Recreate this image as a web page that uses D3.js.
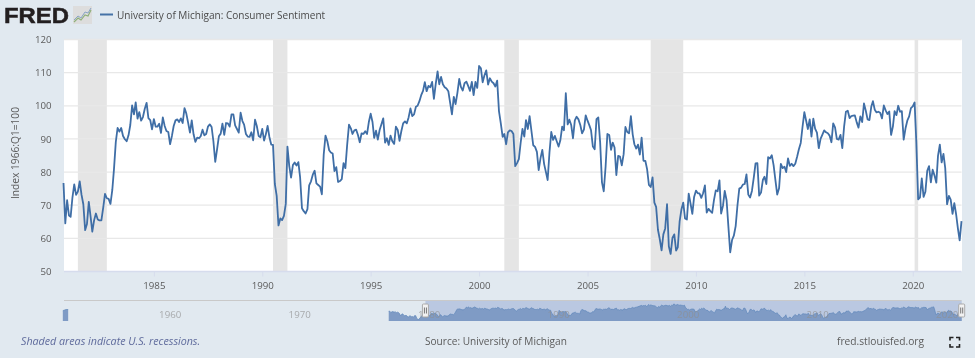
<!DOCTYPE html>
<html><head><meta charset="utf-8">
<script src="https://cdn.jsdelivr.net/npm/d3@7"></script>
<style>
html,body{margin:0;padding:0;background:#e1e9f0;overflow:hidden}
svg{display:block;filter:blur(0.35px)}
text{font-family:"Open Sans",sans-serif}
.axis path{display:none}
</style></head><body>
<svg id="c" width="975" height="358"></svg>
<script>
const seriesName = "University of Michigan: Consumer Sentiment";
const yAxisTitle = "Index 1966:Q1=100";
const sourceNote = "Source: University of Michigan";
const recessionNote = "Shaded areas indicate U.S. recessions.";
const siteNote = "fred.stlouisfed.org";

const firstMonth = "1980-11-01";
const sentiment = [
76.7,64.5,
71.5,66.9,66.5,72.4,76.3,73.1,74.1,77.2,73.1,70.3,62.5,64.3,
71.0,66.5,62.0,65.5,67.5,65.7,65.4,65.4,69.3,73.4,72.1,71.9,
70.4,74.6,80.8,89.1,93.3,92.2,93.3,90.9,89.9,89.3,91.1,94.2,
100.1,97.4,101.0,96.1,98.1,95.5,96.6,99.1,100.9,96.3,95.7,92.9,
96.0,93.7,93.7,94.6,91.8,96.5,94.0,92.4,92.1,88.4,90.9,93.9,
95.6,95.9,95.1,96.2,94.8,99.3,97.7,94.9,91.9,95.6,91.4,89.1,
90.4,90.2,90.8,92.8,91.1,91.5,93.7,94.4,93.6,89.3,83.1,86.8,
90.8,91.6,94.6,91.2,94.8,94.7,93.7,97.4,97.4,94.1,93.0,91.9,
97.9,95.4,94.3,91.5,90.7,90.6,92.0,89.6,95.8,93.9,90.9,90.5,
93.0,89.5,91.3,93.9,90.6,88.3,88.2,76.4,72.8,63.9,66.0,65.5,
66.8,70.4,87.7,81.8,78.3,82.1,82.9,82.0,83.0,78.3,69.1,68.2,
67.5,68.8,76.0,77.2,79.2,80.4,76.6,76.1,75.6,73.3,85.3,91.0,
89.3,86.6,85.9,85.6,80.3,81.5,77.0,77.3,77.9,82.7,81.2,88.2,
94.3,93.2,91.5,92.6,92.8,91.2,89.0,91.7,91.5,92.3,91.5,95.1,
97.6,95.1,90.3,92.5,89.8,92.7,94.4,96.2,88.9,90.2,88.2,91.0,
89.3,88.5,93.7,92.7,89.4,92.4,94.7,95.3,94.7,96.5,99.2,96.9,
97.4,99.7,100.0,101.4,103.2,104.5,107.1,104.4,106.0,105.6,107.2,102.1,
106.6,110.4,106.5,108.7,106.5,105.6,105.2,104.4,100.9,97.4,102.7,100.5,
103.9,108.1,105.7,104.6,106.8,107.3,106.0,104.5,107.2,103.2,107.2,105.4,
112.0,111.3,107.1,109.2,110.7,106.4,108.3,107.3,106.8,105.8,107.6,98.4,
94.7,90.6,91.5,88.4,92.0,92.6,92.4,91.5,81.8,82.7,83.9,88.8,
93.0,90.7,95.7,93.0,96.9,92.4,88.1,87.6,86.1,80.6,84.2,86.7,
82.4,79.9,77.6,86.0,92.1,89.7,90.9,89.3,87.7,89.6,93.7,92.6,
103.8,94.4,95.8,94.2,90.2,95.6,96.7,95.9,94.2,91.7,92.8,97.1,
95.5,94.1,92.6,87.7,86.9,96.0,96.5,89.1,76.9,74.2,81.6,91.5,
91.2,86.7,88.9,87.4,79.1,84.9,84.7,82.0,85.4,93.6,92.1,91.7,
96.9,91.3,88.4,87.1,88.3,85.3,90.4,83.4,83.4,80.9,76.1,75.5,
78.4,70.8,69.5,62.6,59.8,56.4,61.2,63.0,70.3,57.6,55.3,60.1,
61.2,56.3,57.3,65.1,68.7,70.8,66.0,65.7,73.5,70.6,67.4,72.5,
74.4,73.6,73.6,72.2,73.6,76.0,67.8,68.9,68.2,67.7,71.6,74.5,
74.2,77.5,67.5,69.8,74.3,71.5,63.7,55.8,59.5,60.8,63.7,69.9,
75.0,75.3,76.2,76.4,79.3,73.2,72.3,74.3,78.3,82.6,82.7,72.9,
73.8,77.6,78.6,76.4,84.5,84.1,85.1,82.1,77.5,73.2,75.1,82.5,
81.2,81.6,80.0,84.1,81.9,82.5,81.8,82.5,84.6,86.9,88.8,93.6,
98.1,95.4,93.0,95.9,90.7,96.1,93.1,91.9,87.2,90.0,91.3,92.6,
92.0,91.7,91.0,89.0,94.7,93.5,90.0,89.8,91.2,87.2,93.8,98.2,
98.5,96.3,96.9,97.0,97.1,95.0,93.4,96.8,95.1,100.7,98.5,95.9,
95.7,99.7,101.4,98.8,98.0,98.2,97.9,96.2,100.1,98.6,97.5,98.3,
91.2,93.8,98.4,97.2,100.0,98.2,98.4,89.8,93.2,95.5,96.8,99.3,
99.8,101.0,89.1,71.8,72.3,78.1,72.5,74.1,80.4,81.8,76.9,80.7,
79.0,76.8,84.9,88.3,82.9,85.5,81.2,70.3,72.8,71.7,67.4,70.6,
67.2,62.8,59.4,65.2];

// Navigator only: the earlier history shown in the overview strip
const earlyFirstMonth = "1978-01-01";
const earlyValues = [
83.7,84.3,78.8,81.6,82.9,80.0,82.4,78.4,80.4,79.3,75.0,66.1,
72.1,73.9,68.4,66.0,68.1,65.8,60.4,64.5,66.7,62.1,63.3,61.0,
67.0,66.9,56.5,52.7,51.7,58.7,62.3,67.3,73.7,75.0];
const patchDates = ["1952-11-01","1953-02-01","1953-04-01"];
const patchValues = [86.2,90.7,90.7];

const recessionStarts = ["1981-07-01","1990-07-01","2001-03-01","2007-12-01","2020-02-01"];
const recessionEnds   = ["1982-11-01","1991-03-01","2001-11-01","2009-06-01","2020-04-01"];
const yTicks = [50,60,70,80,90,100,110,120];
const xTickYears = [1985,1990,1995,2000,2005,2010,2015,2020];
const navTickYears = [1960,1970,1980,1990,2000,2010,2020];

const parse = d3.utcParse("%Y-%m-%d");
const monthsFrom = (s,vals)=>vals.map((v,i)=>({date:d3.utcMonth.offset(parse(s),i),value:v}));
const data = monthsFrom(firstMonth,sentiment);
const early = monthsFrom(earlyFirstMonth,earlyValues);
const patch = patchDates.map((d,i)=>({date:parse(d),value:patchValues[i]}));
const yr = y=>new Date(Date.UTC(y,0,1));

const L=63.5,R=961.5,T=39.5,B=271.5;
const svg=d3.select("#c");
const ink="#5b5b5b";
const tickSize="9.7px";

const x=d3.scaleUtc().domain(d3.extent(data,d=>d.date)).range([L,R]);
const y=d3.scaleLinear().domain([50,120]).range([B,T]);

svg.append("rect").attr("x",L+.5).attr("y",T).attr("width",R-L).attr("height",B-T).attr("fill","#fff");

svg.append("g").selectAll("rect").data(recessionStarts).join("rect")
 .attr("x",d=>x(parse(d))).attr("y",T).attr("height",B-T)
 .attr("width",(d,i)=>x(parse(recessionEnds[i]))-x(parse(d))).attr("fill","#e5e5e5");

svg.append("g").selectAll("line").data(yTicks).join("line")
 .attr("x1",L+.5).attr("x2",R).attr("y1",d=>y(d)).attr("y2",d=>y(d))
 .attr("stroke",d=>d===50?"#d6dced":"#e8e8e8").attr("stroke-width",d=>d===50?1.5:1.3);

const yAxis=d3.axisLeft(y).tickValues(yTicks).tickSize(0).tickPadding(12);
const gy=svg.append("g").attr("class","axis").attr("transform",`translate(${L},0)`).call(yAxis);
gy.selectAll("text").attr("fill",ink).style("font-size",tickSize);

const xAxis=d3.axisBottom(x).tickValues(xTickYears.map(yr)).tickFormat(d3.utcFormat("%Y")).tickSize(5).tickPadding(6);
const gx=svg.append("g").attr("class","axis").attr("transform",`translate(0,${B})`).call(xAxis);
gx.selectAll("line").attr("stroke","#d6dced");
gx.selectAll("text").attr("fill",ink).style("font-size",tickSize);

svg.append("path").datum(data).attr("fill","none").attr("stroke","#3f6ea6").attr("stroke-width",1.8)
 .attr("stroke-linejoin","round")
 .attr("d",d3.line().x(d=>x(d.date)).y(d=>y(d.value)));

svg.append("text").attr("transform","translate(19,153) rotate(-90)").attr("text-anchor","middle")
 .attr("fill",ink).style("font-size","10.2px").text(yAxisTitle);

// Navigator
const NT=300.5,NB=321;
const nx=d3.scaleUtc().domain([yr(1960),yr(2020)]).range([155.6,932.6]);
const ny=d3.scaleLinear().domain([46,118]).range([NB,NT+2]);
const nArea=d3.area().x(d=>nx(d.date)).y0(NB).y1(d=>ny(d.value));
const navG=svg.append("g");
navG.append("rect").attr("x",nx(data[0].date)).attr("y",NT).attr("width",nx(data[data.length-1].date)-nx(data[0].date)).attr("height",NB-NT).attr("fill","#bac8e1");
const navAll=[...early,...data];
[patch,navAll].forEach(s=>{
 navG.append("path").datum(s).attr("d",nArea).attr("fill","#7f9bc5");
 navG.append("path").datum(s).attr("fill","none").attr("stroke","#5f86ba").attr("stroke-width",.7)
  .attr("d",d3.line().x(d=>nx(d.date)).y(d=>ny(d.value)));
});
navG.selectAll("text").data(navTickYears).join("text")
 .attr("x",d=>nx(yr(d))+3.5).attr("y",317.5).attr("fill","#8e8e8e").attr("fill-opacity",.7).style("font-size","9.7px").text(d=>d);
navG.append("line").attr("x1",L+.5).attr("x2",R).attr("y1",NT).attr("y2",NT).attr("stroke","#c9c9c9").attr("stroke-width",1);
[data[0].date,data[data.length-1].date].forEach(d=>{
 const cx=nx(d);
 const h=navG.append("g").attr("transform",`translate(${cx},310.5)`);
 h.append("rect").attr("x",-3).attr("y",-6.5).attr("width",6).attr("height",13).attr("rx",1).attr("fill","#f2f2f2").attr("stroke","#aaa");
 h.selectAll("line").data([-1,1]).join("line").attr("x1",e=>e).attr("x2",e=>e).attr("y1",-3).attr("y2",3).attr("stroke","#777");
});

// Footer
svg.append("text").attr("x",21).attr("y",345).attr("fill","#5f6b9c").style("font-size","10.7px").style("font-style","italic").text(recessionNote);
svg.append("text").attr("x",425).attr("y",345).attr("fill",ink).style("font-size","10.1px").text(sourceNote);
svg.append("text").attr("x",837).attr("y",345).attr("fill",ink).style("font-size","10.2px").text(siteNote);
svg.append("path").attr("fill","none").attr("stroke","#222").attr("stroke-width",1.6)
 .attr("d","M950 340.5v-3h3.5M956 337.5h3.5v3M959.5 344v3H956M953.5 347H950v-3");

// Header
svg.append("text").attr("x",4).attr("y",23).attr("fill","#231f20").attr("stroke","#231f20").attr("stroke-width",.5)
 .attr("textLength",65).attr("lengthAdjust","spacingAndGlyphs")
 .style("font-family","'Liberation Sans',sans-serif").style("font-weight","700").style("font-size","22px").text("FRED");
const logo=svg.append("g");
logo.append("rect").attr("x",73).attr("y",6).attr("width",19).attr("height",18).attr("fill","#ddd");
const logoGreen=[[74,22],[78,18],[81,20],[85,15],[88,16],[91,10]];
const logoBlue=[[74,20],[78,16],[81,18],[85,12],[88,13],[91,8]];
logo.append("path").attr("d",d3.line()(logoGreen)).attr("fill","none").attr("stroke","#8fb07a").attr("stroke-width",1.2);
logo.append("path").attr("d",d3.line()(logoBlue)).attr("fill","none").attr("stroke","#8aa4c4").attr("stroke-width",1);
svg.append("line").attr("x1",100).attr("x2",113).attr("y1",14.5).attr("y2",14.5).attr("stroke","#4572a7").attr("stroke-width",2);
svg.append("text").attr("x",117).attr("y",19).attr("fill","#4a4a4a").style("font-size","10.05px").text(seriesName);
</script></body></html>
